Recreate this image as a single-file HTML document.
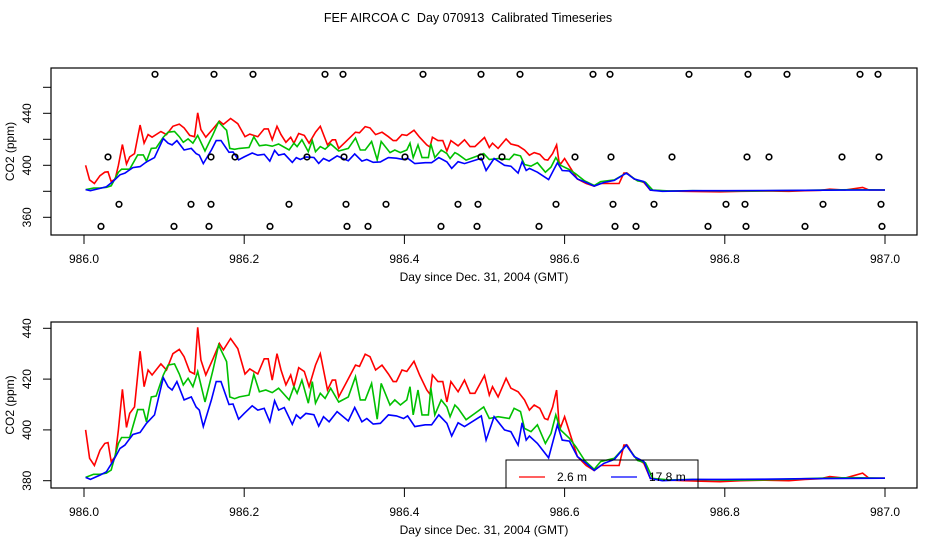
<!DOCTYPE html>
<html><head><meta charset="utf-8"><style>
html,body{margin:0;padding:0;background:#fff;}
svg{display:block;font-family:"Liberation Sans",sans-serif;}
</style></head><body>
<svg id="chart" width="936" height="540" viewBox="0 0 936 540">
<text x="468" y="22" font-size="12.5" text-anchor="middle" style="white-space:pre">FEF AIRCOA C  Day 070913  Calibrated Timeseries</text>
</svg>
<script>
const redDays=[.002,.007,.013,.020,.026,.030,.034,.039,.043,.048,.053,.057,.063,.070,.075,.080,.085,.096,.103,.111,.119,.125,.132,.138,.142,.146,.152,.161,.169,.174,.183,.192,.201,.207,.217,.225,.230,.235,.241,.246,.252,.258,.262,.268,.275,.281,.289,.295,.304,.310,.314,.318,.326,.339,.344,.351,.357,.364,.372,.380,.386,.390,.397,.403,.412,.419,.428,.432,.435,.442,.448,.453,.458,.467,.475,.482,.488,.500,.506,.510,.517,.527,.533,.542,.550,.556,.562,.569,.575,.579,.585,.590,.593,.595,.600,.608,.616,.627,.637,.645,.668,.674,.678,.687,.699,.707,.724,.75,.77,.794,.82,.85,.88,.90,.92,.931,.95,.972,.980,1.0];
const redVals=[400,388.8,386,392,394.7,395,387.5,389.5,400,416,401,406.5,409,431,417,423.6,421.6,426,423.6,430,431.7,428.8,423,422,440.4,427.5,421.6,428,434,431.5,436,432,422,424,422,428,428,419.6,430,423.6,417.7,421.6,417,424.5,423,417,425.5,430,415.7,419.6,419.6,413,417.7,425.5,425,429.8,428.8,423.6,425.5,422,419,419,423.6,423,427,421.6,415.7,414,421.6,419,419,411,419,415,419.6,414.4,414.4,421.4,413.7,417,413,420.3,416.4,415,411.8,407.8,409.8,408.5,404.5,404,409,415.7,402.6,401,405.2,397.3,389.5,386,384,386,386,394,394,389.5,386.8,380.9,380.3,380,379.8,379.6,380,380.2,380,380.5,380.8,381.6,381,383,381,381];
const greenDays=[.002,.012,.020,.028,.034,.043,.047,.057,.067,.074,.078,.084,.090,.099,.105,.113,.119,.124,.130,.136,.142,.151,.161,.168,.175,.178,.182,.188,.194,.206,.212,.219,.227,.235,.243,.256,.262,.266,.272,.280,.285,.289,.295,.301,.308,.318,.330,.339,.345,.351,.359,.366,.371,.382,.388,.395,.403,.407,.411,.417,.422,.430,.433,.438,.446,.453,.457,.463,.467,.477,.488,.499,.506,.517,.531,.537,.545,.550,.558,.566,.576,.583,.589,.595,.606,.614,.625,.637,.645,.662,.677,.691,.701,.710,.73,.76,.80,.84,.88,.92,.96,1.0];
const greenVals=[381.3,382.5,382.5,383,384.2,394.7,397,397,408,408,403.2,413,413.3,421.6,425.5,426,422,417.7,420.3,417,423,411,423.6,433.4,428.8,426.9,413,412.3,413,413.7,421.9,415,415.7,414.7,416.4,411.8,417,414.4,419.6,410.5,419,410.5,414.4,412.4,416.4,411,413,421,411.8,411.8,418.3,404.2,418.3,409.8,411.8,409.8,411.8,417,405.9,415.7,405.9,405.9,416.6,405.9,411.8,409,405.2,409.8,408.5,404,406.5,409,404.5,405.2,404.5,408.5,407.2,400.6,399.3,402,394.7,398.6,405.9,400,396.7,393.4,388,384.5,387.5,388.8,394,388,387,380.9,380.3,380.5,380.2,380.3,380.6,381,381.2,381];
const blueDays=[.002,.008,.020,.028,.036,.045,.051,.061,.070,.078,.088,.099,.105,.110,.116,.125,.134,.140,.144,.149,.159,.165,.171,.181,.186,.193,.200,.210,.217,.225,.232,.238,.243,.250,.260,.265,.270,.277,.287,.293,.299,.306,.316,.330,.338,.347,.353,.361,.370,.380,.390,.399,.404,.413,.426,.434,.443,.453,.459,.467,.475,.496,.502,.512,.525,.533,.542,.547,.552,.556,.566,.580,.591,.597,.606,.616,.627,.637,.649,.662,.677,.687,.699,.707,.722,.76,.80,.85,.90,.95,1.0];
const blueVals=[381.3,380.5,382.2,383.5,387.5,392.7,394,398.2,399,402.6,405.9,420.6,417,415.7,419,411.8,413,409,407.8,401.3,411.8,419,419,410,410.2,404.2,406.5,409.5,407.8,408.5,403.2,411.5,407.8,408.8,402.2,405.9,404.5,406.5,406,401.5,405.2,403.2,407.2,403.5,408.8,403.2,404.5,402.3,402.6,405.9,405.5,404.5,405.5,401.3,402,402,405.9,402.6,397.6,402.8,401.3,405.5,396,405.2,400,399.3,394,402.8,396,397.6,394.7,389,402,396,395.6,389.5,386.8,384,386.8,388.4,394,389.5,387.5,380.9,380,380.5,380.5,380.6,380.8,380.9,381];
const flagTop=[155,214,253,325,343,423,481,520,593,610,689,748,787,860,878].map(p=>(p-84)/801);
const flag406=[108,211,235,307,344,405,481,502,575,611,672,747,769,842,879].map(p=>(p-84)/801);
const flag370=[119,191,211,289,346,386,458,478,556,613,654,726,745,823,881].map(p=>(p-84)/801);
const flag353=[101,174,209,270,347,368,441,477,539,615,636,708,746,805,882].map(p=>(p-84)/801);
const flagLevels=[470,406.4,370,353];
const xTicks=[0,0.2,0.4,0.6,0.8,1.0];
const xTickLabels=["986.0","986.2","986.4","986.6","986.8","987.0"];
const topYTicks=[360,380,400,420,440,460];
const topYLabels=["360","","400","","440",""];
const botYTicks=[380,400,420,440];
const botYLabels=["380","400","420","440"];

const NS="http://www.w3.org/2000/svg";
const svg=document.getElementById('chart');
function mk(tag,attrs,parent){const e=document.createElementNS(NS,tag);for(const k in attrs)e.setAttribute(k,attrs[k]);(parent||svg).appendChild(e);return e;}
const L=51,R=917;
const xs=d=>84+d*801;

function panel(name,top,bottom,yScale,yt,yl,withFlags,withLegend){
  const g=mk('g',{});
  
  
  const clip=mk('clipPath',{id:name+'-clip'},g);
  mk('rect',{x:L,y:top,width:R-L,height:bottom-top},clip);
  const cols=[['#ff0000',redDays,redVals,'red-series'],['#00c000',greenDays,greenVals,'green-series'],['#0000ff',blueDays,blueVals,'blue-series']];
  cols.forEach(c=>{
    const pts=c[1].map((d,i)=>xs(d).toFixed(1)+','+yScale(c[2][i]).toFixed(1)).join(' ');
    const p=mk('polyline',{points:pts,fill:'none',stroke:c[0],'stroke-width':1.6,'clip-path':'url(#'+name+'-clip)'},g);
    
    
  });
  if(withFlags){
    [flagTop,flag406,flag370,flag353].forEach((arr,k)=>{
      arr.forEach(d=>{
        const c=mk('circle',{cx:xs(d),cy:yScale(flagLevels[k]),r:2.8,fill:'none',stroke:'#000','stroke-width':1.6},g);
        
        
      });
    });
  }
  const box=mk('rect',{x:L,y:top,width:R-L,height:bottom-top,fill:'none',stroke:'#000','stroke-width':1.2},g);
  
  
  xTicks.forEach((t,i)=>{
    mk('line',{x1:xs(t),x2:xs(t),y1:bottom,y2:bottom+9,stroke:'#000'},g);
    const tx=mk('text',{x:xs(t),y:bottom+28,'font-size':12,'text-anchor':'middle'},g);
    tx.textContent=xTickLabels[i];
    
    
  });
  yt.forEach((v,i)=>{
    const y=yScale(v);
    mk('line',{x1:L-8,x2:L,y1:y,y2:y,stroke:'#000'},g);
    if(yl[i]){
      const tx=mk('text',{x:0,y:0,'font-size':12,'text-anchor':'middle',transform:'translate(31,'+y+') rotate(-90)'},g);
      tx.textContent=yl[i];
      
      
    }
  });
  const xl=mk('text',{x:484,y:bottom+46,'font-size':12,'text-anchor':'middle'},g);
  xl.textContent='Day since Dec. 31, 2004 (GMT)';
  
  
  const ylb=mk('text',{x:0,y:0,'font-size':12,'text-anchor':'middle',transform:'translate(14,'+((top+bottom)/2)+') rotate(-90)'},g);
  ylb.textContent='CO2 (ppm)';
  
  
  if(withLegend){
    const lg=mk('g',{},g);
    
    
    mk('rect',{x:506,y:460,width:192,height:28,fill:'none',stroke:'#000'},lg);
    mk('line',{x1:519,x2:545,y1:477,y2:477,stroke:'#ff0000','stroke-width':1.2},lg);
    const t1=mk('text',{x:557,y:481,'font-size':12},lg);t1.textContent='2.6 m';
    
    
    mk('line',{x1:611,x2:637,y1:477,y2:477,stroke:'#0000ff','stroke-width':1.2},lg);
    const t2=mk('text',{x:649,y:481,'font-size':12},lg);t2.textContent='17.8 m';
    
    
  }
}
panel('top-panel',68,235,v=>165.3-(v-400)*1.3,topYTicks,topYLabels,true,false);
panel('bottom-panel',322,488,v=>480.7-(v-380)*2.54,botYTicks,botYLabels,false,true);
</script>
</body></html>
